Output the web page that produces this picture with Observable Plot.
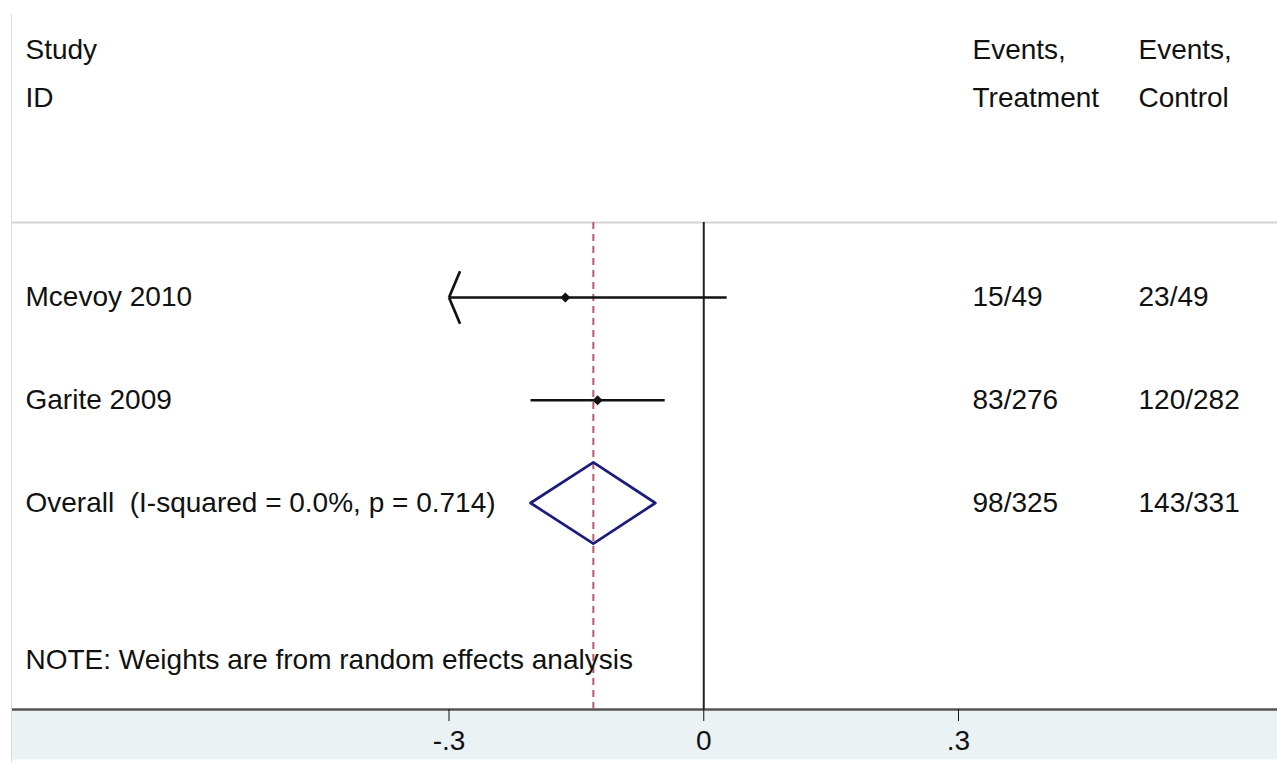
<!DOCTYPE html>
<html>
<head>
<meta charset="utf-8">
<script src="https://cdn.jsdelivr.net/npm/d3@7"></script>
<script src="https://cdn.jsdelivr.net/npm/@observablehq/plot@0.6"></script>
<style>
  html, body { margin: 0; padding: 0; background: #fff; }
  #wrap { position: absolute; left: 11px; top: 14px; border-left: 1.5px solid #dcdcdc; }
  #wrap svg { display: block; }
</style>
</head>
<body>
<div id="wrap"></div>
<script>
// ---- data ----
const studies   = ["Mcevoy 2010", "Garite 2009"];
const estimates = [-0.163, -0.125];
const lowerCI   = [-0.353, -0.204];
const upperCI   = [0.027, -0.046];
const eventsTreatment = ["15/49", "83/276"];
const eventsControl   = ["23/49", "120/282"];

const overallLabel = "Overall  (I-squared = 0.0%, p = 0.714)";
const overallEstimate = -0.130;
const overallLower = -0.204;
const overallUpper = -0.057;
const overallTreatment = "98/325";
const overallControl = "143/331";

const headerStudy = ["Study", "ID"];
const headerTreatment = ["Events,", "Treatment"];
const headerControl = ["Events,", "Control"];
const noteText = "NOTE: Weights are from random effects analysis";

const xTicks = [-0.3, 0, 0.3];
const xMin = -0.3; // display limit; CIs beyond are drawn with an arrow

// ---- derived tables ----
const rows = studies.map((s, i) => ({
  label: s, row: i + 1, est: estimates[i],
  lo: lowerCI[i], hi: upperCI[i],
  loShown: Math.max(lowerCI[i], xMin),
  clipped: lowerCI[i] < xMin,
  treat: eventsTreatment[i], ctrl: eventsControl[i]
}));
const overallRow = rows.length + 1;
const tableRows = [
  ...rows.map(r => ({label: r.label, row: r.row, treat: r.treat, ctrl: r.ctrl})),
  {label: overallLabel, row: overallRow, treat: overallTreatment, ctrl: overallControl}
];

// layout constants (in row units)
const headerRows = [-1.404, -0.946];
const sepRow = 0.27;
const axisRow = 5.01;
const bandBottom = 5.5;
const noteRow = 4.533;
const diamondHalf = 0.395;
const arrowDx = 0.013, arrowDy = 0.255;

const diamond = [
  {x: overallLower, y: overallRow},
  {x: overallEstimate, y: overallRow - diamondHalf},
  {x: overallUpper, y: overallRow},
  {x: overallEstimate, y: overallRow + diamondHalf},
  {x: overallLower, y: overallRow}
];
const arrows = rows.filter(r => r.clipped).flatMap(r => [
  {x1: xMin, y1: r.row, x2: xMin + arrowDx, y2: r.row - arrowDy},
  {x1: xMin, y1: r.row, x2: xMin + arrowDx, y2: r.row + arrowDy}
]);

const hdr = arr => arr.map((t, i) => ({t, row: headerRows[i]}));

// scale setup (domain -> pixel range), text columns expressed through it
const xDomain = [-0.3, 0.3], xRange = [436.5, 946];
const xs = d3.scaleLinear(xDomain, xRange);
const COL_STUDY = xs.invert(13), COL_TREAT = xs.invert(960), COL_CTRL = xs.invert(1126);

const FS = 28;
const textOpts = {textAnchor: "start", fontSize: FS, fill: "#111"};

const plot = Plot.plot({
  width: 1265,
  height: 749,
  marginLeft: 0, marginRight: 0, marginTop: 0, marginBottom: 54,
  style: {fontFamily: "'Liberation Sans', Arial, Helvetica, sans-serif", background: "#fff", color: "#111"},
  x: {domain: xDomain, range: xRange},
  y: {domain: [1, 3], range: [283, 488.5], axis: null},
  marks: [
    // axis band
    Plot.rect([0], {y1: axisRow, y2: bandBottom, fill: "#eaf2f3"}),
    Plot.ruleY([sepRow], {stroke: "#d4d4d4", strokeWidth: 2}),
    Plot.ruleY([axisRow], {stroke: "#555", strokeWidth: 2.5}),
    // null line & overall line
    Plot.ruleX([0], {y1: sepRow, y2: axisRow, stroke: "#222", strokeWidth: 2}),
    Plot.ruleX([overallEstimate], {y1: sepRow, y2: axisRow, stroke: "#b85a63", strokeWidth: 2, strokeDasharray: "7,5"}),
    // CIs
    Plot.link(rows, {x1: "loShown", x2: "hi", y1: "row", y2: "row", stroke: "#111", strokeWidth: 2.7}),
    Plot.link(arrows, {x1: "x1", y1: "y1", x2: "x2", y2: "y2", stroke: "#111", strokeWidth: 2.7}),
    Plot.dot(rows, {x: "est", y: "row", symbol: "diamond2", r: 4.6, fill: "#111", stroke: null}),
    // overall diamond
    Plot.line(diamond, {x: "x", y: "y", stroke: "#1c1c7c", strokeWidth: 2.7, curve: "linear"}),
    // table text
    Plot.text(hdr(headerStudy), {...textOpts, x: COL_STUDY, y: "row", text: "t"}),
    Plot.text(hdr(headerTreatment), {...textOpts, x: COL_TREAT, y: "row", text: "t"}),
    Plot.text(hdr(headerControl), {...textOpts, x: COL_CTRL, y: "row", text: "t"}),
    Plot.text(tableRows, {...textOpts, x: COL_STUDY, y: "row", text: "label"}),
    Plot.text(tableRows, {...textOpts, x: COL_TREAT, y: "row", text: "treat"}),
    Plot.text(tableRows, {...textOpts, x: COL_CTRL, y: "row", text: "ctrl"}),
    Plot.text([noteText], {...textOpts, x: COL_STUDY, y: noteRow, text: d => d}),
    // x axis
    Plot.axisX({
      anchor: "bottom", ticks: xTicks, tickSize: 12, tickPadding: 9, fontSize: FS,
      label: null, stroke: "#111", fill: "#111",
      tickFormat: d => d === 0 ? "0" : d3.format(".1f")(d).replace("\u2212", "-").replace("0.", ".")
    })
  ]
});
document.getElementById("wrap").appendChild(plot);
</script>
</body>
</html>
